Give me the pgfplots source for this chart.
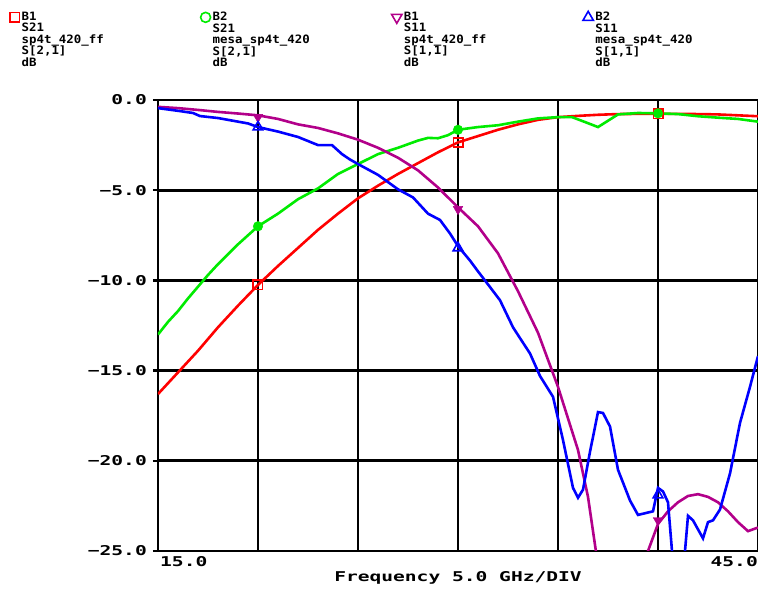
\documentclass[border=0pt]{standalone}
\usepackage{pgfplots}
\pgfplotsset{compat=1.18}
\usepackage{fontspec}
\newfontfamily\plotfont[FakeStretch=1.45]{DejaVu Sans Mono}
\newfontfamily\legfont[FakeStretch=1.08]{DejaVu Sans Mono}
\definecolor{cRed}{RGB}{255,0,0}
\definecolor{cGreen}{RGB}{0,235,0}
\definecolor{cMag}{RGB}{178,0,138}
\definecolor{cBlue}{RGB}{0,0,255}
\begin{document}
\begin{tikzpicture}
\path[use as bounding box] (-158pt,-41pt) rectangle (600pt,551pt);
\begin{axis}[
  scale only axis, width=600pt, height=451pt,
  xmin=15, xmax=45, ymin=-25, ymax=0,
  xtick={15,20,...,45}, xticklabels={},
  ytick={-25,-20,...,0},
  yticklabels={−25.0,−20.0,−15.0,−10.0,−5.0,0.0},
  grid=major, major grid style={black, line width=2.8pt},
  axis line style={black, line width=2.8pt},
  xtick style={draw=none},
  ytick style={black, line width=2.4pt},
  tick align=outside, major tick length=5pt,
  yticklabel style={font=\plotfont\bfseries\fontsize{13.5}{14}\selectfont, anchor=east, inner sep=0pt, xshift=-6pt},
  legend image code/.code={\draw[#1, line width=1.6pt] plot coordinates {(6pt,-5.5pt)};},
  legend columns=4,
  legend style={at={(-0.247,1.197)}, anchor=north west, draw=none, fill=none,
     inner sep=0pt, column sep=0pt, row sep=0pt, cells={anchor=north west},
     nodes={inner xsep=2pt, inner ysep=0pt},
     font=\legfont\bfseries\fontsize{11.5}{11.5}\selectfont},
]
% S21 sp4t_420_ff (red)
\addplot[cRed, line width=2.6pt, forget plot] coordinates {
(15,-16.3)(16,-15.1)(17,-13.9)(18,-12.6)(19,-11.4)(20,-10.25)(21,-9.2)(22,-8.2)(23,-7.2)(24,-6.3)
(25,-5.45)(26,-4.75)(27,-4.1)(28,-3.5)(29,-2.9)(30,-2.35)(31,-2.0)(32,-1.65)(33,-1.35)(34,-1.1)
(35,-0.95)(36,-0.88)(37,-0.82)(38,-0.78)(39,-0.77)(40,-0.77)(41,-0.77)(42,-0.78)(43,-0.8)(44,-0.85)(45,-0.9)};
\addplot[cRed, only marks, mark=square, mark size=4.6pt, line width=1.8pt, forget plot] coordinates {(20,-10.25)(30,-2.35)(40,-0.77)};
% S21 mesa_sp4t_420 (green)
\addplot[cGreen, line width=2.6pt, forget plot] coordinates {
(15,-13.0)(15.5,-12.3)(16,-11.7)(16.5,-11.0)(17,-10.35)(17.5,-9.7)(18,-9.1)(18.5,-8.55)(19,-8.0)(19.5,-7.5)
(20,-7.0)(21,-6.3)(22,-5.5)(23,-4.9)(24,-4.1)(25,-3.55)(26,-3.0)(27,-2.65)(28,-2.25)(28.5,-2.1)
(29,-2.12)(29.5,-1.95)(30,-1.65)(31,-1.5)(32,-1.4)(33,-1.2)(34,-1.02)(35,-0.95)(35.7,-0.95)(36.3,-1.2)
(37,-1.5)(37.5,-1.15)(38,-0.8)(39,-0.72)(40,-0.74)(41,-0.78)(42,-0.9)(43,-0.98)(44,-1.05)(45,-1.2)};
\addplot[cGreen, only marks, mark=*, mark size=4.8pt, forget plot] coordinates {(20,-7.0)(30,-1.65)(40,-0.74)};
% S11 sp4t_420_ff (magenta)
\addplot[cMag, line width=2.6pt, forget plot] coordinates {
(15,-0.38)(16,-0.45)(17,-0.55)(18,-0.66)(19,-0.75)(20,-0.85)(21,-1.05)(22,-1.35)(23,-1.55)(24,-1.85)
(25,-2.2)(26,-2.65)(27,-3.2)(28,-3.9)(29,-4.85)(30,-5.95)(31,-7.0)(32,-8.5)(33,-10.6)(34,-12.9)
(35,-15.9)(36,-19.4)(36.5,-22.0)(37,-25.8)(38,-30)(39,-27)(39.5,-25.0)(40,-23.5)(40.5,-22.8)(41,-22.3)
(41.5,-21.95)(42,-21.85)(42.5,-22.0)(43,-22.3)(43.5,-22.8)(44,-23.4)(44.5,-23.9)(45,-23.7)};
\addplot[cMag, only marks, mark=triangle*, mark size=5.6pt, mark options={rotate=180}, forget plot] coordinates {(20,-0.95)(30,-6.05)(40,-23.3)};
% S11 mesa_sp4t_420 (blue)
\addplot[cBlue, line width=2.6pt, forget plot] coordinates {
(15,-0.45)(16,-0.6)(16.75,-0.72)(17.1,-0.89)(18,-1.0)(18.75,-1.15)(19.5,-1.3)(20,-1.5)(21,-1.75)(22,-2.05)
(23,-2.5)(23.4,-2.5)(23.7,-2.5)(24.2,-3.0)(24.6,-3.3)(25,-3.55)(26,-4.15)(27,-4.95)(27.75,-5.4)(28.5,-6.3)
(29.1,-6.65)(29.6,-7.4)(30,-8.1)(30.6,-8.9)(31,-9.5)(31.45,-10.15)(32.1,-11.1)(32.75,-12.6)(33.1,-13.2)(33.6,-14.05)
(34.1,-15.3)(34.75,-16.45)(35.25,-18.85)(35.75,-21.5)(36.0,-22.05)(36.25,-21.6)(36.6,-19.5)(37.0,-17.3)(37.25,-17.35)(37.6,-18.1)
(38.0,-20.5)(38.6,-22.2)(39.0,-23.0)(39.75,-22.8)(40.0,-21.5)(40.25,-21.7)(40.5,-22.3)(40.7,-25.0)(41.0,-27)(41.35,-25.0)
(41.5,-23.05)(41.75,-23.3)(42.25,-24.3)(42.5,-23.4)(42.75,-23.3)(43.1,-22.7)(43.6,-20.7)(44.1,-17.9)(44.6,-15.9)(45,-14.2)};
\addplot[cBlue, only marks, mark=triangle, mark size=5.6pt, line width=1.6pt, forget plot] coordinates {(20,-1.5)(30,-8.2)(40,-21.9)};
% legend
\addlegendimage{cRed, mark=square, mark size=4.8pt}
\addlegendentry{\parbox[t]{177pt}{B1\\S21\\sp4t\_420\_ff\\S[2,1]\\dB}}
\addlegendimage{cGreen, mark=o, mark size=5pt}
\addlegendentry{\parbox[t]{177pt}{B2\\S21\\mesa\_sp4t\_420\\S[2,1]\\dB}}
\addlegendimage{cMag, mark=triangle, mark size=6pt, mark options={rotate=180}}
\addlegendentry{\parbox[t]{177pt}{B1\\S11\\sp4t\_420\_ff\\S[1,1]\\dB}}
\addlegendimage{cBlue, mark=triangle, mark size=6pt}
\addlegendentry{\parbox[t]{177pt}{B2\\S11\\mesa\_sp4t\_420\\S[1,1]\\dB}}
\end{axis}
% axis texts (outside the axis so they are not clipped)
\node[font=\plotfont\bfseries\fontsize{13.5}{14}\selectfont, anchor=west, inner sep=0pt] at (2pt,-11pt) {15.0};
\node[font=\plotfont\bfseries\fontsize{13.5}{14}\selectfont, anchor=east, inner sep=0pt] at (600pt,-11pt) {45.0};
\node[font=\plotfont\bfseries\fontsize{13.5}{14}\selectfont, anchor=center, inner sep=0pt] at (300pt,-27pt) {Frequency 5.0 GHz/DIV};
\end{tikzpicture}
\end{document}
